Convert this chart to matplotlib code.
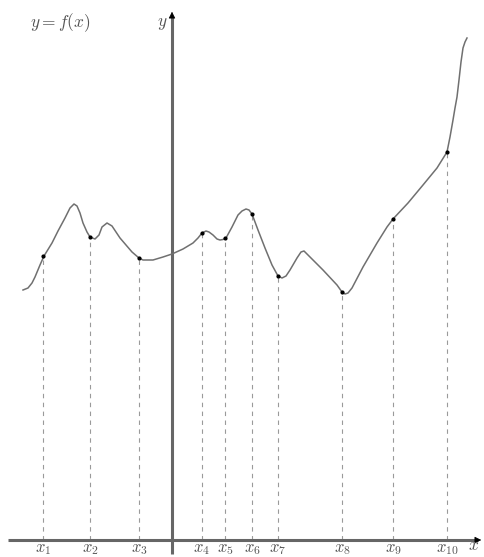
import matplotlib
matplotlib.use("Agg")
import matplotlib.pyplot as plt

plt.rcParams["mathtext.fontset"] = "cm"

# curve samples (origin at the axes crossing)
curve_x = [-149, -144, -140, -137, -132, -128, -120, -114, -107, -102, -98, -95, -92, -89,
           -85, -82, -77, -73, -70, -65, -60, -54, -52, -46, -40, -33, -29, -19, -9, 0,
           11, 21, 26, 30, 34, 37, 41, 45, 48, 51, 54, 60, 66, 70, 74, 77, 80, 86, 93,
           100, 106, 110, 114, 118, 125, 129, 132, 136, 151, 165, 170, 173, 176, 180,
           191, 205, 215, 221, 236, 251, 265, 275, 278, 281, 283, 285, 287, 289, 291,
           293, 295]
curve_y = [250, 252, 257, 263, 275, 284, 297, 309, 322, 332, 336, 334, 327, 317,
           308, 303, 301, 305, 313, 317, 314, 305, 302, 295, 288, 282, 280, 280, 283, 286,
           291, 297, 302, 307, 309, 308, 305, 301, 300, 300.5, 302, 313, 325, 329, 331, 330, 326, 310, 292,
           275, 264, 262, 264, 270, 282, 288, 289, 285, 270, 255, 248, 246, 247, 252,
           273, 297, 313, 321, 337, 355, 372, 388, 403, 420, 432, 443, 460, 478, 492,
           498, 502]

# marked points x_1 ... x_10
pts_x = [-129, -82, -33, 30, 53, 80, 106, 170, 221, 275]
pts_y = [284, 303, 282, 307, 302, 326, 264, 248, 321, 388]
pt_labels = [r"$x_{%d}$" % (i + 1) for i in range(len(pts_x))]

fig = plt.figure(figsize=(4.84, 5.57), dpi=100)
ax = fig.add_axes([0, 0, 1, 1])
ax.set_xlim(-172, 312)
ax.set_ylim(-17, 540)
ax.axis("off")

# axes with arrows
ax.plot([-164, 306], [0, 0], color="#666666", lw=2.2, solid_capstyle="butt", zorder=2)
ax.plot([0, 0], [-14, 524], color="#666666", lw=2.2, solid_capstyle="butt", zorder=2)
ax.annotate("", xy=(312, 0), xytext=(302, 0),
            arrowprops=dict(arrowstyle="-|>", color="black", lw=0.5,
                            mutation_scale=10), zorder=3)
ax.annotate("", xy=(0, 531), xytext=(0, 521),
            arrowprops=dict(arrowstyle="-|>", color="black", lw=0.5,
                            mutation_scale=10), zorder=3)

# dashed drop lines
for px, py in zip(pts_x, pts_y):
    ax.plot([px, px], [0, py], color="#9a9a9a", lw=0.8, ls=(0, (4, 4)), zorder=1)

ax.plot(curve_x, curve_y, color="#707070", lw=1.1, zorder=4)
ax.plot(pts_x, pts_y, "o", color="black", ms=2.0, zorder=5)

for px, lab in zip(pts_x, pt_labels):
    ax.text(px, -8, lab, ha="center", va="center", fontsize=12, color="#555555")

ax.text(-112, 517, r"$y = f(x)$", ha="center", va="center", fontsize=12.5, color="#555555")
ax.text(-10, 517, r"$y$", ha="center", va="center", fontsize=12.5, color="#555555")
ax.text(302, -5, r"$x$", ha="center", va="center", fontsize=12.5, color="#555555")

fig.savefig("out.png", dpi=100)
